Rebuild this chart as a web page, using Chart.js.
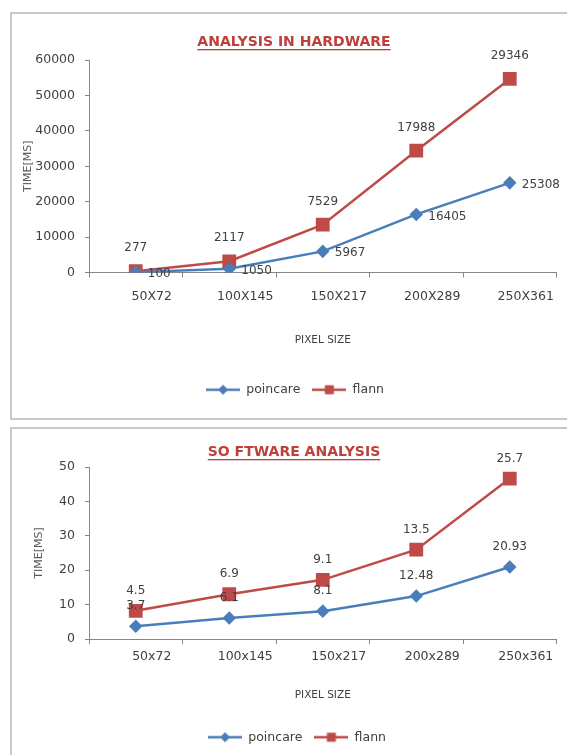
<!DOCTYPE html>
<html><head><meta charset="utf-8">
<script src="https://cdn.jsdelivr.net/npm/chart.js@4.4.1/dist/chart.umd.min.js"></script>
<style>
html,body{margin:0;padding:0;background:#fff;}
body{width:567px;height:755px;overflow:hidden;position:relative;}
.frame{position:absolute;left:10px;width:600px;border:2px solid #c9c9c9;box-sizing:border-box;}
#f1{top:12px;height:408px;}
#f2{top:427px;height:400px;}
canvas{position:absolute;left:0;}
#c1{top:0;}
#c2{top:420px;}
</style></head><body>
<div class="frame" id="f1"></div><div class="frame" id="f2"></div>
<canvas id="c1" width="567" height="420"></canvas>
<canvas id="c2" width="567" height="335"></canvas>
<script>
// ---------- data ----------
const seriesNames = ['poincare', 'flann'];

const titleHW = 'ANALYSIS IN HARDWARE';
const categoriesHW = ['50X72', '100X145', '150X217', '200X289', '250X361'];
const poincareHW = [100, 1050, 5967, 16405, 25308];
const flannHW = [277, 2117, 7529, 17988, 29346];
const yTicksHW = [0, 10000, 20000, 30000, 40000, 50000, 60000];

const titleSW = 'SO FTWARE ANALYSIS';
const categoriesSW = ['50x72', '100x145', '150x217', '200x289', '250x361'];
const poincareSW = [3.7, 6.1, 8.1, 12.48, 20.93];
const flannSW = [4.5, 6.9, 9.1, 13.5, 25.7];
const yTicksSW = [0, 10, 20, 30, 40, 50];

const xTitle = 'PIXEL SIZE';
const yTitle = 'TIME[MS]';

// ---------- style ----------
const BLUE = '#4A7EBB';
const RED = '#BE4B48';
const TEXT = '#404040';
const AXIS = '#868686';
const FONT = '"DejaVu Sans", sans-serif';

function legendIcon(color, kind) {
  const c = document.createElement('canvas');
  c.width = 34; c.height = 14;
  const g = c.getContext('2d');
  g.strokeStyle = color; g.lineWidth = 2.5;
  g.beginPath(); g.moveTo(0, 7); g.lineTo(34, 7); g.stroke();
  g.fillStyle = color;
  if (kind === 'diamond') {
    g.beginPath(); g.moveTo(17, 2); g.lineTo(22, 7); g.lineTo(17, 12); g.lineTo(12, 7); g.closePath(); g.fill();
  } else {
    g.fillRect(12.5, 2.5, 9, 9);
  }
  return c;
}
const icons = [legendIcon(BLUE, 'diamond'), legendIcon(RED, 'square')];

const valueLabels = {
  id: 'valueLabels',
  afterDatasetsDraw(chart, args, opts) {
    const ctx = chart.ctx;
    ctx.save();
    ctx.font = '12px ' + FONT;
    ctx.fillStyle = TEXT;
    ctx.textBaseline = 'middle';
    chart.data.datasets.forEach((ds, i) => {
      const meta = chart.getDatasetMeta(i);
      const pos = opts.positions[i];
      ctx.textAlign = pos.align;
      meta.data.forEach((pt, j) => {
        ctx.fillText(String(ds.data[j]), pt.x + pos.dx, pt.y + pos.dy);
      });
    });
    ctx.restore();
  }
};

const chartTitle = {
  id: 'chartTitle',
  afterDraw(chart, args, o) {
    const ctx = chart.ctx;
    ctx.save();
    ctx.font = 'bold 14px ' + FONT;
    ctx.fillStyle = '#BF3F3A';
    ctx.textAlign = 'center';
    ctx.textBaseline = 'middle';
    ctx.fillText(o.text, o.x, o.y);
    const w = ctx.measureText(o.text).width;
    ctx.fillRect(o.x - w / 2, o.y + 7, w, 1.3);
    ctx.restore();
  }
};

function makeChart(canvas, L) {
  return new Chart(canvas, {
    type: 'line',
    data: {
      labels: L.categories,
      datasets: [
        { label: seriesNames[0], data: L.poincare, borderColor: BLUE, backgroundColor: BLUE,
          pointStyle: 'rectRot', pointRadius: 5, pointBorderColor: BLUE, pointBackgroundColor: BLUE,
          borderWidth: 2.5, tension: 0, fill: false },
        { label: seriesNames[1], data: L.flann, borderColor: RED, backgroundColor: RED,
          pointStyle: 'rect', pointRadius: 8, pointBorderColor: RED, pointBackgroundColor: RED,
          borderWidth: 2.5, tension: 0, fill: false }
      ]
    },
    options: {
      responsive: false,
      animation: false,
      devicePixelRatio: 1,
      layout: { padding: L.padding },
      plugins: {
        legend: {
          display: true, position: 'bottom',
          labels: {
            usePointStyle: true, pointStyleWidth: 34, padding: 12,
            color: TEXT, font: { family: FONT, size: 12.5 },
            generateLabels: (chart) => chart.data.datasets.map((ds, i) => ({
              text: ds.label, pointStyle: icons[i], datasetIndex: i, hidden: false,
              fillStyle: 'transparent', strokeStyle: 'transparent', lineWidth: 0, fontColor: TEXT
            }))
          }
        },
        tooltip: { enabled: false },
        title: { display: false },
        valueLabels: { positions: L.labelPos },
        chartTitle: { text: L.title, x: 294, y: L.titleY }
      },
      scales: {
        x: {
          offset: true,
          grid: { offset: true, drawOnChartArea: false, drawTicks: true, tickLength: 5, color: AXIS },
          border: { color: AXIS, width: 1 },
          ticks: { color: TEXT, font: { family: FONT, size: 12.5 }, padding: L.xTickPad, labelOffset: 16, maxRotation: 0, autoSkip: false },
          title: { display: true, text: xTitle, color: TEXT, font: { family: FONT, size: 10.5 }, padding: { top: 0, bottom: L.xTitlePad } },
          afterFit: (s) => { s.height = L.xHeight; }
        },
        y: {
          stacked: true,
          min: L.yTicks[0], max: L.yTicks[L.yTicks.length - 1],
          grid: { drawOnChartArea: false, drawTicks: true, tickLength: 4, color: AXIS },
          border: { color: AXIS, width: 1 },
          ticks: { stepSize: L.yTicks[1] - L.yTicks[0], color: TEXT, font: { family: FONT, size: 12.5 }, padding: 10,
                   callback: (v) => String(v) },
          title: { display: true, text: yTitle, color: '#595959', font: { family: FONT, size: 11 }, padding: { top: L.yTitlePad, bottom: 0 } },
          afterFit: (s) => { s.width = L.yWidth; }
        }
      }
    },
    plugins: [valueLabels, chartTitle]
  });
}

makeChart(document.getElementById('c1'), {
  categories: categoriesHW, poincare: poincareHW, flann: flannHW, yTicks: yTicksHW,
  title: titleHW, titleY: 42,
  padding: { left: 32, right: 9, top: 60, bottom: 14 },
  yWidth: 57, xHeight: 99, xTickPad: 11.5, xTitlePad: 24.7, yTitlePad: -10,
  labelPos: [ { align: 'left', dx: 12, dy: 2 }, { align: 'center', dx: 0, dy: -23 } ]
});

makeChart(document.getElementById('c2'), {
  categories: categoriesSW, poincare: poincareSW, flann: flannSW, yTicks: yTicksSW,
  title: titleSW, titleY: 32,
  padding: { left: 33, right: 6, top: 47, bottom: 1.5 },
  yWidth: 56, xHeight: 80, xTickPad: 5.5, xTitlePad: 17.7, yTitlePad: 0,
  labelPos: [ { align: 'center', dx: 0, dy: -20 }, { align: 'center', dx: 0, dy: -20 } ]
});
</script>
</body></html>
